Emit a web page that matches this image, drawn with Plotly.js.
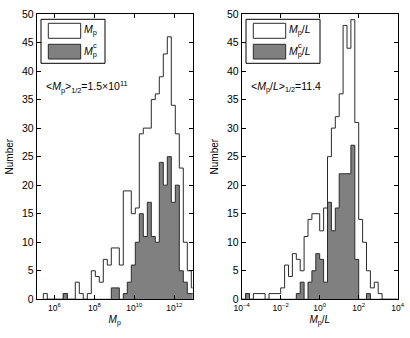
<!DOCTYPE html>
<html>
<head>
<meta charset="utf-8">
<script src="https://cdn.plot.ly/plotly-3.0.1.min.js"></script>
<style>
html, body { margin: 0; padding: 0; background: #ffffff; }
#graph { width: 410px; height: 338px; }
</style>
</head>
<body>
<div id="graph"></div>
<script>
// Left panel: bin centres in log10(Mp), counts for all galaxies and for the core sample
var mpBins = [5.55, 5.75, 5.95, 6.15, 6.35, 6.55, 6.75, 6.95, 7.15, 7.35, 7.55, 7.75, 7.95,
    8.15, 8.35, 8.55, 8.75, 8.95, 9.15, 9.35, 9.55, 9.75, 9.95, 10.15, 10.35, 10.55, 10.75,
    10.95, 11.15, 11.35, 11.55, 11.75, 11.95, 12.15, 12.35, 12.55, 12.75, 12.95];
var mpAll = [1, 0, 0, 0, 0, 1, 0, 0, 3, 1, 0, 1, 5,
    4, 3, 7, 6, 9, 9, 6, 19, 19, 15, 16, 29, 30, 30,
    35, 36, 39, 43, 46, 34, 29, 23, 10, 5, 2];
var mpCore = [0, 0, 0, 0, 0, 1, 0, 0, 0, 0, 0, 0, 0,
    0, 0, 0, 0, 2, 2, 0, 1, 3, 6, 10, 15, 11, 17,
    11, 10, 24, 20, 25, 17, 20, 5, 3, 1, 1];

// Right panel: bin centres in log10(Mp/L)
var mlBins = [-3.9, -3.7, -3.5, -3.3, -3.1, -2.9, -2.7, -2.5, -2.3, -2.1, -1.9, -1.7, -1.5,
    -1.3, -1.1, -0.9, -0.7, -0.5, -0.3, -0.1, 0.1, 0.3, 0.5, 0.7, 0.9, 1.1, 1.3, 1.5, 1.7,
    1.9, 2.1, 2.3, 2.5, 2.7, 2.9, 3.1, 3.3, 3.5, 3.7, 3.9];
var mlAll = [0, 1, 0, 1, 1, 1, 0, 1, 1, 1, 2, 6, 4,
    8, 7, 5, 11, 14, 15, 15, 12, 16, 25, 30, 32, 36, 48, 44, 49,
    31, 14, 10, 5, 2, 3, 1, 0, 0, 0, 0];
var mlCore = [0, 1, 0, 0, 0, 0, 0, 0, 0, 0, 0, 0, 0,
    0, 1, 3, 0, 3, 5, 8, 7, 3, 17, 12, 16, 22, 22, 22, 27,
    7, 0, 0, 1, 0, 0, 0, 0, 0, 0, 0];

var binWidth = 0.2;

var mpTicks = [6, 8, 10, 12];
var mpTickText = ['10<sup>6</sup>', '10<sup>8</sup>', '10<sup>10</sup>', '10<sup>12</sup>'];
var mlTicks = [-4, -2, 0, 2, 4];
var mlTickText = ['10<sup>\u22124</sup>', '10<sup>\u22122</sup>', '10<sup>0</sup>', '10<sup>2</sup>', '10<sup>4</sup>'];

var W = 410, H = 338;
var FONT = 'Liberation Sans, Arial, Helvetica, sans-serif';
var EDGE = '#2b2b2b';
var GREY = '#808080';

function px(x) { return x / W; }
function py(y) { return 1 - y / H; }

// turn bin centres + counts into a closed stair outline
function stairs(centres, counts) {
    var xs = [centres[0] - binWidth / 2];
    var ys = [0];
    for (var i = 0; i < centres.length; i++) {
        xs.push(centres[i] - binWidth / 2, centres[i] + binWidth / 2);
        ys.push(counts[i], counts[i]);
    }
    xs.push(centres[centres.length - 1] + binWidth / 2);
    ys.push(0);
    return { x: xs, y: ys };
}

function histTrace(centres, counts, fillColor, xa, ya) {
    var s = stairs(centres, counts);
    return {
        x: s.x, y: s.y,
        xaxis: xa, yaxis: ya,
        type: 'scatter', mode: 'lines',
        fill: 'tozeroy', fillcolor: fillColor,
        line: { color: EDGE, width: 1 },
        hoverinfo: 'skip', showlegend: false
    };
}

var traces = [
    histTrace(mpBins, mpAll, '#ffffff', 'x', 'y'),
    histTrace(mpBins, mpCore, GREY, 'x', 'y'),
    histTrace(mlBins, mlAll, '#ffffff', 'x2', 'y2'),
    histTrace(mlBins, mlCore, GREY, 'x2', 'y2')
];

function xAxis(domain, range, ticks, text, title) {
    return {
        domain: domain, range: range,
        tickmode: 'array', tickvals: ticks, ticktext: text,
        tickfont: { family: FONT, size: 8.5, color: '#000' },
        ticks: 'inside', ticklen: 4, tickcolor: '#000',
        showline: true, linecolor: '#000', linewidth: 1, mirror: 'ticks',
        showgrid: false, zeroline: false,
        title: { text: title, font: { family: FONT, size: 10, color: '#000' }, standoff: 4 }
    };
}

function yAxis(anchor) {
    return {
        anchor: anchor,
        domain: [py(299.3), py(14)], range: [0, 50],
        tickmode: 'linear', tick0: 0, dtick: 5,
        tickfont: { family: FONT, size: 10.5, color: '#000' },
        ticks: 'inside', ticklen: 4, tickcolor: '#000',
        showline: true, linecolor: '#000', linewidth: 1, mirror: 'ticks',
        showgrid: false, zeroline: false,
        title: { text: 'Number', font: { family: FONT, size: 10, color: '#000' }, standoff: 6 }
    };
}

// hand-drawn legend boxes, one per panel
function legendShapes(left, boxW) {
    return [
        { type: 'rect', xref: 'paper', yref: 'paper', x0: px(left), x1: px(left + boxW), y0: py(63.3), y1: py(19.3),
          line: { color: '#000', width: 1 }, fillcolor: '#fff', layer: 'above' },
        { type: 'rect', xref: 'paper', yref: 'paper', x0: px(left + 7.3), x1: px(left + 39.7), y0: py(38.3), y1: py(23.3),
          line: { color: EDGE, width: 1 }, fillcolor: '#fff', layer: 'above' },
        { type: 'rect', xref: 'paper', yref: 'paper', x0: px(left + 7.3), x1: px(left + 39.7), y0: py(59), y1: py(44.3),
          line: { color: EDGE, width: 1 }, fillcolor: GREY, layer: 'above' }
    ];
}

function note(x, y, text, size) {
    return {
        xref: 'paper', yref: 'paper', x: px(x), y: py(y),
        xanchor: 'left', yanchor: 'middle', showarrow: false,
        text: text, font: { family: FONT, size: size || 10.5, color: '#000' }
    };
}

var layout = {
    width: W, height: H,
    margin: { l: 0, r: 0, t: 0, b: 0 },
    paper_bgcolor: '#fff', plot_bgcolor: '#fff',
    showlegend: false,
    xaxis: xAxis([px(36.7), px(192.7)], [5.12, 12.92], mpTicks, mpTickText, '<i>M</i><sub>p</sub>'),
    yaxis: yAxis('x'),
    xaxis2: xAxis([px(241.7), px(397.7)], [-4, 4], mlTicks, mlTickText, '<i>M</i><sub>p</sub>/<i>L</i>'),
    yaxis2: yAxis('x2'),
    shapes: legendShapes(41, 64).concat(legendShapes(246, 74)),
    annotations: [
        note(82, 30.5, '<i>M</i><sub>p</sub>'),
        note(82, 51.5, '<i>M</i><sub>p</sub>'),
        note(91, 45, 'c', 7.5),
        note(287, 30.5, '<i>M</i><sub>p</sub>/<i>L</i>'),
        note(287, 51.5, '<i>M</i><sub>p</sub>/<i>L</i>'),
        note(296, 45, 'c', 7.5),
        note(44, 87, '&lt;<i>M</i><sub>p</sub>&gt;<sub>1/2</sub>=1.5\u00d710<sup>11</sup>'),
        note(249, 87, '&lt;<i>M</i><sub>p</sub>/<i>L</i>&gt;<sub>1/2</sub>=11.4')
    ]
};

Plotly.newPlot('graph', traces, layout, { staticPlot: true });
</script>
</body>
</html>
